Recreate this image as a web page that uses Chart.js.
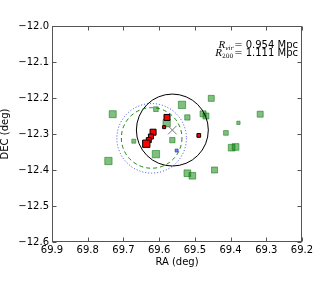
<!DOCTYPE html>
<html><head><meta charset="utf-8">
<script src="https://cdn.jsdelivr.net/npm/chart.js@4/dist/chart.umd.min.js"></script>
<style>html,body{margin:0;padding:0;background:#fff;overflow:hidden}canvas{display:block}</style>
</head><body>
<canvas id="c" width="320" height="288"></canvas>
<script>
// ---- data ----
const xTicks = [69.9, 69.8, 69.7, 69.6, 69.5, 69.4, 69.3, 69.2];
const yTicks = [-12.0, -12.1, -12.2, -12.3, -12.4, -12.5, -12.6];

const greenRA  = [69.730, 69.742, 69.609, 69.536, 69.454, 69.521, 69.477, 69.469, 69.317, 69.378, 69.413, 69.397, 69.386, 69.445, 69.521, 69.507, 69.609, 69.563, 69.671, 69.579];
const greenDEC = [-12.245, -12.375, -12.231, -12.219, -12.201, -12.254, -12.244, -12.250, -12.245, -12.269, -12.297, -12.338, -12.336, -12.400, -12.409, -12.416, -12.356, -12.317, -12.320, -12.270];
const greenWeight = [7, 7.3, 4.7, 7.3, 6, 5.3, 6, 6, 6, 3.3, 4.7, 6.7, 6.7, 6, 6.7, 6.7, 7.3, 5.3, 4, 7.3];

const redRA  = [69.578, 69.586, 69.489, 69.617, 69.623, 69.629, 69.636];
const redDEC = [-12.254, -12.281, -12.304, -12.295, -12.307, -12.317, -12.327];
const redWeight = [6, 3, 3.7, 6, 5, 5, 7.3];

const blueRA = [69.551];
const blueDEC = [-12.346];

const centerRA = [69.563];
const centerDEC = [-12.289];

const circleRA = [69.563, 69.621, 69.621];
const circleDEC = [-12.289, -12.312, -12.311];
const circleRadius = [0.1007, 0.0974, 0.0848];

const annotSubs = ['vir', '200'];
const annotValues = ['0.954 Mpc', '1.111 Mpc'];

// ---- styles ----
const circleColor = ['#000000', 'rgba(0,0,255,0.75)', 'rgba(0,128,0,0.9)'];
const circleDash = [[], [1, 2], [4, 3]];
const FONT = '"DejaVu Sans"';
Chart.defaults.font.family = FONT;
Chart.defaults.color = '#000';

const toPts = (xs, ys) => xs.map((v, i) => ({x: v, y: ys[i]}));
const sideToRadius = s => s / 1.414;

const overlay = {
  id: 'overlay',
  afterDatasetsDraw(chart) {
    const {ctx, chartArea: a, scales: {x, y}} = chart;
    ctx.save();
    ctx.beginPath(); ctx.rect(a.left, a.top, a.width, a.height); ctx.clip();
    circleRA.forEach((ra, i) => {
      const cx = x.getPixelForValue(ra), cy = y.getPixelForValue(circleDEC[i]);
      const r = Math.abs(x.getPixelForValue(ra + circleRadius[i]) - cx);
      ctx.beginPath(); ctx.arc(cx, cy, r, 0, Math.PI * 2);
      ctx.strokeStyle = circleColor[i]; ctx.setLineDash(circleDash[i]); ctx.lineWidth = 1;
      ctx.stroke();
    });
    ctx.restore();
  },
  afterDraw(chart) {
    const {ctx, chartArea: a, scales: {x, y}} = chart;
    ctx.save();
    ctx.strokeStyle = '#555'; ctx.lineWidth = 1;
    const L = Math.round(a.left) + 0.5, R = Math.round(a.right) - 0.5, T = Math.round(a.top) + 0.5, B = Math.round(a.bottom) - 0.5;
    ctx.strokeRect(L, T, R - L, B - T);
    ctx.beginPath();
    xTicks.forEach(v => {
      const px = Math.round(x.getPixelForValue(v)) + 0.5;
      ctx.moveTo(px, B); ctx.lineTo(px, B - 4);
      ctx.moveTo(px, T); ctx.lineTo(px, T + 4);
    });
    yTicks.forEach(v => {
      const py = Math.round(y.getPixelForValue(v)) + 0.5;
      ctx.moveTo(L, py); ctx.lineTo(L + 4, py);
      ctx.moveTo(R, py); ctx.lineTo(R - 4, py);
    });
    ctx.stroke();
    // annotation
    ctx.fillStyle = '#000'; ctx.textBaseline = 'alphabetic';
    const xr = a.right - 4;
    for (let i = 0; i < annotValues.length; i++) {
      const yy = a.top + 21.5 + i * 8;
      ctx.font = '10px ' + FONT; ctx.textAlign = 'right';
      ctx.fillText(annotValues[i], xr, yy);
      let xx = xr - ctx.measureText(annotValues[i]).width - 3;
      ctx.font = '10px "DejaVu Serif"';
      ctx.fillText('=', xx, yy);
      xx -= ctx.measureText('=').width + 1;
      ctx.font = (i === 0 ? 'italic ' : '') + '6px "DejaVu Serif"';
      ctx.fillText(annotSubs[i], xx, yy + 2);
      xx -= ctx.measureText(annotSubs[i]).width;
      ctx.font = 'italic 11px "Liberation Serif"';
      ctx.fillText('R', xx, yy);
    }
    ctx.restore();
  }
};

new Chart(document.getElementById('c'), {
  type: 'scatter',
  data: {
    datasets: [
      { data: toPts(greenRA, greenDEC), pointStyle: 'rect', pointRadius: greenWeight.map(sideToRadius),
        backgroundColor: 'rgba(0,128,0,0.5)', borderColor: 'rgba(0,110,0,0.5)', borderWidth: 1, order: 4 },
      { data: toPts(blueRA, blueDEC), pointStyle: 'rect', pointRadius: sideToRadius(3),
        backgroundColor: 'rgba(0,0,255,0.5)', borderColor: 'rgba(0,0,200,0.5)', borderWidth: 1, order: 3 },
      { data: toPts(redRA, redDEC), pointStyle: 'rect', pointRadius: redWeight.map(sideToRadius),
        backgroundColor: '#ff0000', borderColor: '#000', borderWidth: 1, order: 2 },
      { data: toPts(centerRA, centerDEC), pointStyle: 'crossRot', pointRadius: 6,
        borderColor: '#777', borderWidth: 1, order: 1 }
    ]
  },
  options: {
    responsive: false, animation: false, devicePixelRatio: 1,
    events: [],
    layout: { padding: { left: 0, top: 26, right: 18, bottom: 0 } },
    plugins: { legend: { display: false }, tooltip: { enabled: false } },
    scales: {
      x: {
        type: 'linear', reverse: true, min: 69.2, max: 69.9,
        afterBuildTicks: s => { s.ticks = xTicks.map(v => ({value: v})); },
        afterFit: s => { s.height = 46; },
        grid: { display: false, drawTicks: false }, border: { display: false },
        ticks: { padding: 2, font: { size: 10 }, color: '#000', callback: v => Number(v).toFixed(1), maxRotation: 0, autoSkip: false },
        title: { display: true, text: 'RA (deg)', font: { size: 10 }, color: '#000', padding: { top: 0, bottom: 20 } }
      },
      y: {
        type: 'linear', min: -12.6, max: -12.0,
        afterBuildTicks: s => { s.ticks = yTicks.map(v => ({value: v})); },
        afterFit: s => { s.width = 52; },
        grid: { display: false, drawTicks: false }, border: { display: false },
        ticks: { padding: 3, font: { size: 10 }, color: '#000', autoSkip: false,
          callback: v => (v < 0 ? '\u2212' : '') + Math.abs(v).toFixed(1) },
        title: { display: true, text: 'DEC (deg)', font: { size: 10, lineHeight: 1 }, color: '#000', padding: { top: 0, bottom: 0 } }
      }
    }
  },
  plugins: [overlay]
});
</script>
</body></html>
